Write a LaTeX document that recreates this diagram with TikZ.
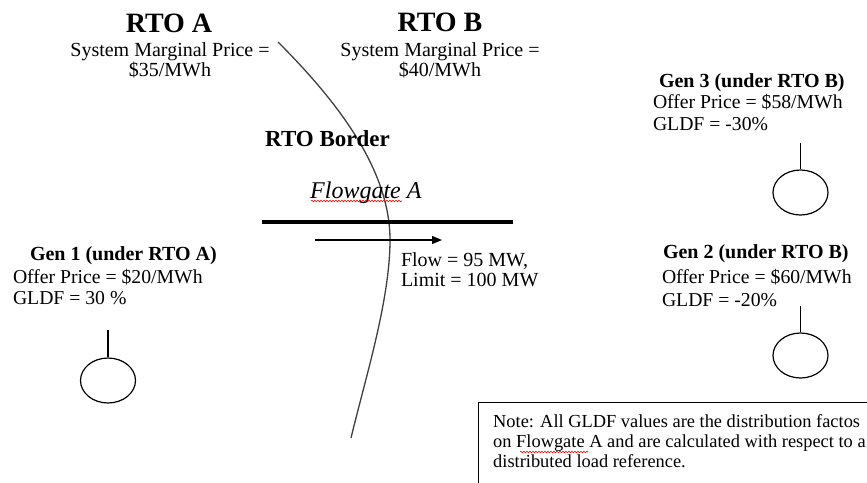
\documentclass[tikz,border=0pt]{standalone}
\usepackage{fontspec}
\setmainfont{Liberation Serif}
\usetikzlibrary{arrows.meta,shapes.geometric,decorations.pathmorphing}
\begin{document}
\begin{tikzpicture}[x=1pt,y=-1pt,
  txt/.style={inner sep=0pt, outer sep=0pt, font=\fontsize{20}{20}\selectfont},
  ttl/.style={inner sep=0pt, outer sep=0pt, anchor=base, font=\fontsize{28}{30}\selectfont\bfseries},
  gentitle/.style={inner sep=0pt, outer sep=0pt, anchor=base west, font=\fontsize{20}{21}\selectfont\bfseries},
  gen/.style={draw, ellipse, minimum width=55pt, minimum height=45pt, inner sep=0pt, line width=1.2pt},
  stem/.style={line width=1.2pt},
  spell/.style={red, line width=0.6pt, decorate, decoration={snake, amplitude=0.8pt, segment length=3pt}},
]
\clip (0,0) rectangle (867,482);
\fill[white] (0,0) rectangle (867,482);

% titles (base anchor of a multi-line node = baseline of its last line)
\node[ttl] (rtoa) at (169,32) {RTO A};
\node[ttl] (rtob) at (440,31) {RTO B};
\node[txt, anchor=base, align=center] (smpa) at (170,76) {System Marginal Price =\\\$35/MWh};
\node[txt, anchor=base, align=center] (smpb) at (440,76) {System Marginal Price =\\\$40/MWh};

% border
\draw[line width=1.3pt, draw=black!75] (278,42) .. controls (338,102) and (390,170) .. (390,240)
      .. controls (390,300) and (365.4,378) .. (351,438);
\node[inner sep=0pt, anchor=base west, font=\fontsize{23}{24}\selectfont\bfseries] (border) at (265,146) {RTO Border};

% flowgate
\node[inner sep=0pt, anchor=base west, font=\fontsize{24}{24}\selectfont\itshape] (fga) at (310,198) {Flowgate A};
\draw[spell] (311,201) -- (402,201);
\coordinate (barl) at (262,222);
\coordinate (barr) at (513,222);
\draw[line width=4pt] (barl) -- (barr);
\coordinate (fl) at (315,240);
\coordinate (fr) at (442,240);
\draw[line width=1.3pt, -{Triangle[length=10pt,width=8pt]}] (fl) -- (fr);
\node[txt, anchor=base west, align=left] (flow) at (401,286) {Flow = 95 MW,\\Limit = 100 MW};

% Gen 1
\node[gentitle] (g1t) at (30,260) {Gen 1 (under RTO A)};
\node[txt, anchor=base west, align=left, font=\fontsize{19.7}{21}\selectfont] (g1d) at (13,304) {Offer Price = \$20/MWh\\GLDF = 30 \%};
\node[gen] (g1) at (108,380.5) {};
\coordinate (g1s) at (108,330);
\draw[stem] (g1s) -- (g1.north);

% Gen 3
\node[gentitle] (g3t) at (659,87) {Gen 3 (under RTO B)};
\node[txt, anchor=base west, align=left, font=\fontsize{19.7}{22}\selectfont] (g3d) at (653,130) {Offer Price = \$58/MWh\\GLDF = -30\%};
\node[gen] (g3) at (800.5,192.5) {};
\coordinate (g3s) at (800.5,143);
\draw[stem] (g3s) -- (g3.north);

% Gen 2
\node[gentitle] (g2t) at (663,258) {Gen 2 (under RTO B)};
\node[txt, anchor=base west, align=left, font=\fontsize{19.7}{23}\selectfont] (g2d) at (662,306) {Offer Price = \$60/MWh\\GLDF = -20\%};
\node[gen] (g2) at (800.5,355.5) {};
\coordinate (g2s) at (800.5,306);
\draw[stem] (g2s) -- (g2.north);

% note
\node[draw, line width=1.3pt, anchor=north west, minimum width=420pt, minimum height=100pt, inner sep=0pt] (notebox) at (478,402) {};
\node[inner sep=0pt, anchor=base west, align=left, font=\fontsize{18.4}{20}\selectfont] (note) at (493,467) {Note: All GLDF values are the distribution factos\\on Flowgate A and are calculated with respect to a\\distributed load reference.};
\draw[spell] (520,452) -- (588,452);
\end{tikzpicture}
\end{document}
